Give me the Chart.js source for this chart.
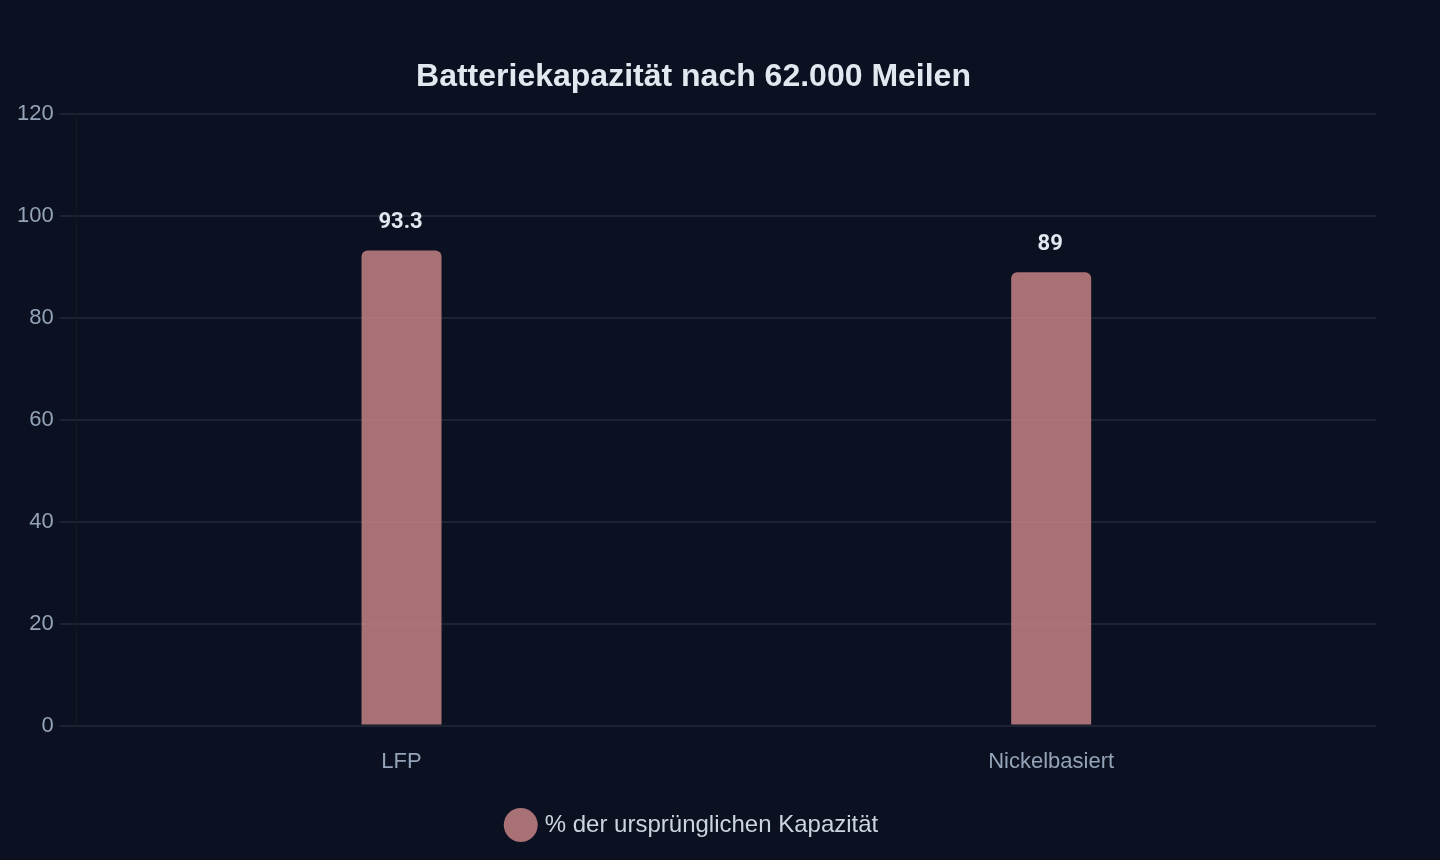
<!DOCTYPE html>
<html>
<head>
<meta charset="utf-8">
<script src="https://cdn.jsdelivr.net/npm/chart.js@4"></script>
<style>
  html, body { margin: 0; padding: 0; background: #0b1120; }
  #wrap { width: 1440px; height: 860px; }
</style>
</head>
<body>
<div id="wrap"><canvas id="chart"></canvas></div>
<script>
// Batteriekapazität nach 62.000 Meilen
const categories = ['LFP', 'Nickelbasiert'];
const capacity = [93.3, 89];
const seriesLabel = '% der ursprünglichen Kapazität';

// simple value labels above bars
const valueLabels = {
  id: 'valueLabels',
  afterDatasetsDraw(chart) {
    const ctx = chart.ctx;
    const meta = chart.getDatasetMeta(0);
    ctx.save();
    ctx.font = 'bold 22px Roboto, "Liberation Sans", sans-serif';
    ctx.fillStyle = '#e2e8f0';
    ctx.textAlign = 'center';
    ctx.textBaseline = 'middle';
    meta.data.forEach((bar, i) => {
      ctx.fillText(String(capacity[i]), bar.x - 1, bar.y - 28);
    });
    ctx.restore();
  }
};

new Chart(document.getElementById('chart'), {
  type: 'bar',
  data: {
    labels: categories,
    datasets: [{
      label: seriesLabel,
      data: capacity,
      backgroundColor: 'rgba(196,130,133,0.85)',
      borderRadius: 6,
      maxBarThickness: 80
    }]
  },
  options: {
    responsive: true,
    maintainAspectRatio: false,
    animation: false,
    layout: { padding: { left: 11, right: 64, top: 58, bottom: 13 } },
    plugins: {
      title: {
        display: true,
        text: 'Batteriekapazität nach 62.000 Meilen',
        color: '#e2e8f0',
        font: { family: '"Liberation Sans", Arial, sans-serif', size: 32, weight: 'bold' },
        padding: { top: 0, bottom: 18 }
      },
      legend: {
        position: 'bottom',
        labels: {
          usePointStyle: true,
          pointStyle: 'circle',
          color: '#cbd5e1',
          font: { family: '"Liberation Sans", Arial, sans-serif', size: 24 },
          padding: 23
        }
      },
      tooltip: { enabled: false }
    },
    scales: {
      x: {
        grid: { display: false },
        border: { display: false },
        ticks: { color: '#94a3b8', font: { family: '"Liberation Sans", Arial, sans-serif', size: 22 }, padding: 15 }
      },
      y: {
        min: 0, max: 120,
        ticks: { stepSize: 20, color: '#94a3b8', font: { family: '"Liberation Sans", Arial, sans-serif', size: 22 }, padding: 6 },
        grid: { color: 'rgba(148,163,184,0.13)', tickLength: 17, lineWidth: 2 },
        border: { color: '#131a27', width: 1 }
      }
    }
  },
  plugins: [valueLabels]
});
</script>
</body>
</html>
